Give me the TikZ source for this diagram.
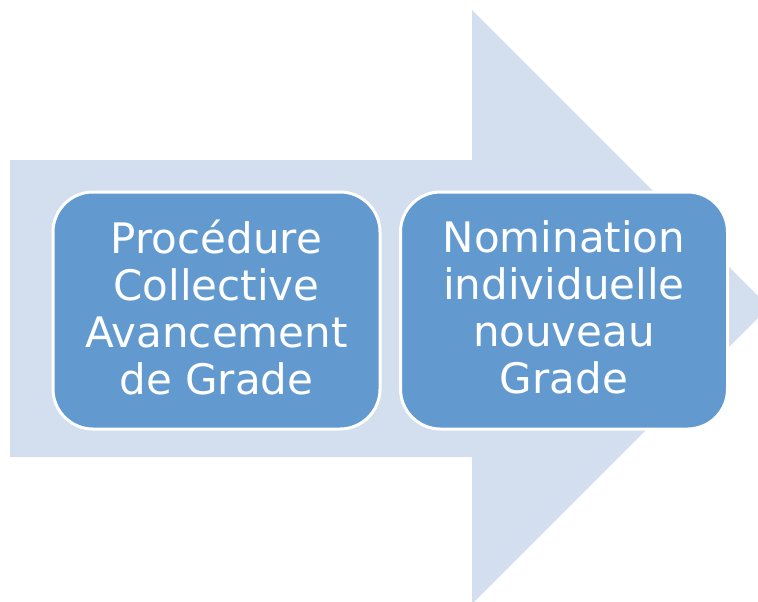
\documentclass[tikz,border=0pt]{standalone}
\usepackage{fontspec}
\setmainfont{DejaVu Sans}
\definecolor{arrowbg}{HTML}{D3DFEE}
\definecolor{boxfill}{HTML}{629ACF}
\begin{document}
\begin{tikzpicture}[x=1pt,y=-1pt,
  stepbox/.style={draw=white, line width=3pt, fill=boxfill, rounded corners=40pt,
    minimum width=327pt, minimum height=237pt, inner sep=0pt},
  steptext/.style={inner sep=0pt, text=white, align=center,
    font=\fontsize{42}{47}\selectfont}]
\useasboundingbox (0,0) rectangle (758,602);
\begin{scope}
\clip (0,0) rectangle (758,602);
\fill[arrowbg] (10,160) -- (472,160) -- (472,10) -- (769,307) -- (472,604) -- (472,457) -- (10,457) -- cycle;
\end{scope}
\node[stepbox] (p1) at (216.5,310.5) {};
\node[stepbox] (p2) at (564,310.5) {};
\node[steptext] (t1) at ([yshift=3pt]p1.center) {Procédure\\Collective\\Avancement\\de Grade};
\node[steptext] (t2) at ([yshift=3pt]p2.center) {Nomination\\individuelle\\nouveau\\Grade};
\end{tikzpicture}
\end{document}
